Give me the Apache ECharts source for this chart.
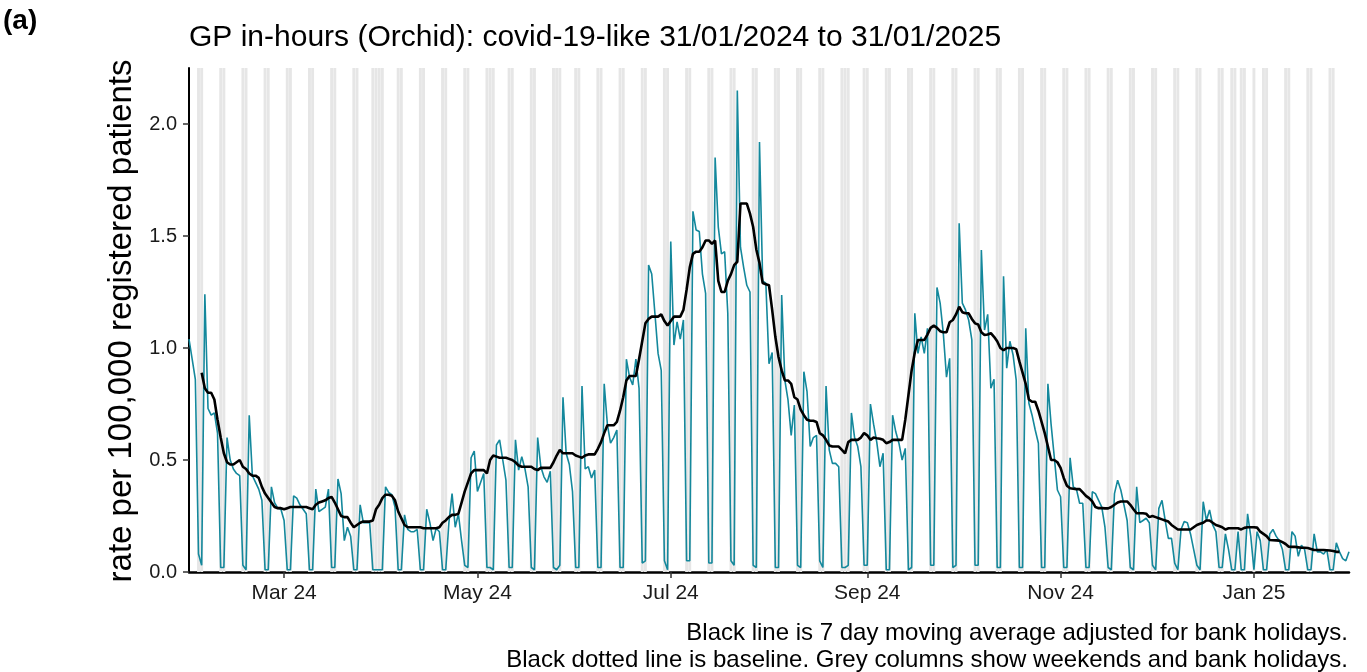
<!DOCTYPE html>
<html><head><meta charset="utf-8">
<script src="https://cdn.jsdelivr.net/npm/echarts@6/dist/echarts.min.js"></script>
<style>html,body{margin:0;padding:0;background:#fff}#c{width:1367px;height:672px}</style>
</head><body><div id="c"></div>
<script>
// ---- data ----
const startDate = [2024, 0, 31];           // 31/01/2024
const bankHolidays = ['2024-03-29','2024-04-01','2024-05-06','2024-05-27','2024-08-26','2024-12-25','2024-12-26','2025-01-01'];
const xTickDates = ['2024-03-01','2024-05-01','2024-07-01','2024-09-01','2024-11-01','2025-01-01'];
const xTickLabels = ['Mar 24','May 24','Jul 24','Sep 24','Nov 24','Jan 25'];
const yTicks = [0, 0.5, 1, 1.5, 2];
const yMax = 2.25;

// daily rate (teal), one value per day from 31/01/2024
const dailyRate = [
1.04,0.95,0.86,0.08,0.03,1.24,0.73,
0.70,0.71,0.62,0.02,0.02,0.60,0.50,
0.46,0.44,0.43,0.03,0.01,0.70,0.43,
0.40,0.37,0.32,0.01,0.01,0.38,0.31,
0.285,0.28,0.23,0.01,0.01,0.34,0.33,
0.30,0.28,0.26,0.01,0.01,0.37,0.27,
0.28,0.29,0.37,0.02,0.02,0.415,0.35,
0.14,0.20,0.16,0.01,0.01,0.30,0.22,
0.22,0.22,0.01,0.01,0.01,0.01,0.38,
0.355,0.345,0.29,0.01,0.01,0.255,0.19,
0.18,0.18,0.19,0.01,0.01,0.28,0.22,
0.14,0.195,0.18,0.01,0.01,0.22,0.35,
0.20,0.26,0.14,0.03,0.02,0.51,0.54,
0.36,0.40,0.44,0.02,0.02,0.01,0.567,
0.59,0.50,0.41,0.02,0.02,0.59,0.455,
0.515,0.46,0.38,0.02,0.01,0.60,0.47,
0.425,0.40,0.45,0.02,0.01,0.03,0.78,
0.53,0.48,0.36,0.02,0.02,0.83,0.46,
0.47,0.42,0.455,0.02,0.02,0.84,0.66,
0.575,0.60,0.634,0.02,0.02,0.95,0.87,
0.835,0.95,0.82,0.04,0.05,1.37,1.33,
1.155,0.976,0.90,0.05,0.01,1.475,1.013,
1.117,1.04,1.125,0.05,0.05,1.61,1.527,
1.52,1.33,1.244,0.04,0.04,1.85,1.54,
1.42,1.43,1.155,0.05,0.03,2.15,1.45,
1.36,1.28,1.25,0.03,0.02,1.92,1.30,
1.29,0.93,0.98,0.02,0.02,1.237,0.857,
0.768,0.61,0.745,0.03,0.02,0.894,0.805,
0.56,0.60,0.61,0.05,0.02,0.83,0.545,
0.485,0.485,0.47,0.02,0.02,0.03,0.71,
0.60,0.56,0.47,0.03,0.03,0.75,0.66,
0.58,0.47,0.53,0.01,0.01,0.70,0.626,
0.575,0.50,0.552,0.01,0.02,1.155,0.976,
1.05,0.976,1.088,0.03,0.03,1.27,1.20,
1.065,0.87,0.954,0.02,0.03,1.557,1.20,
1.17,1.125,1.036,0.03,0.03,1.437,1.08,
1.15,0.82,0.86,0.02,0.02,1.32,0.91,
1.03,0.97,0.857,0.02,0.02,1.088,0.753,
0.70,0.634,0.575,0.02,0.02,0.84,0.66,
0.515,0.366,0.336,0.02,0.02,0.51,0.38,
0.37,0.307,0.307,0.02,0.02,0.358,0.35,
0.32,0.29,0.20,0.02,0.01,0.35,0.41,
0.366,0.30,0.23,0.02,0.01,0.38,0.22,
0.23,0.24,0.22,0.03,0.01,0.284,0.32,
0.23,0.15,0.15,0.04,0.01,0.19,0.225,
0.22,0.17,0.10,0.03,0.01,0.314,0.23,
0.277,0.21,0.18,0.02,0.02,0.17,0.10,
0.01,0.01,0.18,0.01,0.01,0.26,0.16,
0.01,0.18,0.14,0.01,0.01,0.17,0.19,
0.16,0.14,0.10,0.01,0.01,0.18,0.16,
0.07,0.12,0.10,0.01,0.01,0.17,0.09,
0.09,0.08,0.10,0.01,0.01,0.13,0.09,
0.06,0.05,0.09
];

// 7 day moving average (black)
const movingAvg = [
null,null,null,null,0.89,0.82,0.80,
0.80,0.77,0.68,0.60,0.53,0.49,0.48,
0.48,0.49,0.50,0.47,0.46,0.44,0.43,
0.43,0.42,0.38,0.35,0.33,0.31,0.29,
0.285,0.285,0.28,0.285,0.29,0.29,0.29,
0.29,0.29,0.29,0.285,0.28,0.30,0.31,
0.315,0.32,0.33,0.335,0.31,0.28,0.25,
0.245,0.245,0.22,0.20,0.21,0.22,0.225,
0.225,0.225,0.23,0.28,0.30,0.33,0.345,
0.345,0.34,0.32,0.27,0.24,0.21,0.20,
0.20,0.20,0.20,0.20,0.195,0.195,0.195,
0.195,0.195,0.20,0.22,0.23,0.245,0.255,
0.255,0.26,0.31,0.36,0.40,0.44,0.455,
0.455,0.455,0.455,0.44,0.50,0.52,0.515,
0.51,0.51,0.51,0.505,0.50,0.49,0.475,
0.47,0.47,0.47,0.47,0.46,0.455,0.465,
0.465,0.465,0.465,0.49,0.52,0.545,0.53,
0.53,0.53,0.53,0.52,0.515,0.51,0.52,
0.525,0.525,0.525,0.55,0.58,0.62,0.655,
0.655,0.655,0.67,0.72,0.78,0.855,0.875,
0.875,0.875,0.95,1.03,1.11,1.13,1.14,
1.14,1.14,1.15,1.12,1.10,1.12,1.14,
1.14,1.14,1.17,1.26,1.36,1.42,1.43,
1.43,1.45,1.48,1.48,1.465,1.48,1.30,
1.25,1.25,1.30,1.33,1.37,1.385,1.645,
1.645,1.645,1.60,1.54,1.44,1.38,1.29,
1.285,1.28,1.17,1.05,0.96,0.90,0.855,
0.855,0.84,0.78,0.77,0.725,0.70,0.68,
0.675,0.675,0.67,0.62,0.61,0.59,0.565,
0.56,0.56,0.56,0.545,0.53,0.58,0.59,
0.59,0.59,0.60,0.62,0.61,0.59,0.60,
0.597,0.595,0.59,0.575,0.58,0.59,0.59,
0.59,0.59,0.68,0.79,0.90,0.98,1.036,
1.036,1.036,1.06,1.09,1.10,1.09,1.075,
1.07,1.07,1.115,1.125,1.15,1.184,1.16,
1.155,1.155,1.13,1.11,1.105,1.07,1.058,
1.06,1.066,1.05,1.03,1.00,0.99,1.00,
1.00,1.00,0.995,0.94,0.89,0.84,0.77,
0.76,0.76,0.72,0.67,0.62,0.56,0.50,
0.50,0.49,0.465,0.42,0.385,0.374,0.372,
0.37,0.37,0.355,0.34,0.33,0.315,0.29,
0.285,0.285,0.284,0.284,0.29,0.30,0.31,
0.315,0.315,0.315,0.30,0.28,0.262,0.262,
0.262,0.26,0.245,0.25,0.245,0.24,0.235,
0.23,0.225,0.21,0.20,0.19,0.19,0.19,
0.19,0.19,0.20,0.21,0.215,0.22,0.23,
0.23,0.22,0.21,0.205,0.20,0.19,0.195,
0.195,0.195,0.195,0.19,0.197,0.20,0.20,
0.20,0.198,0.18,0.17,0.16,0.143,0.142,
0.141,0.14,0.133,0.125,0.113,0.112,0.112,
0.11,0.108,0.108,0.107,0.103,0.098,0.098,
0.098,0.098,0.097,0.096,0.094,0.09,0.09,
null,null,null
];

// ---- build ----
function iso(d){ return d.toISOString().slice(0,10); }
const dates = dailyRate.map((_, i) => iso(new Date(Date.UTC(startDate[0], startDate[1], startDate[2] + i))));
const greyCols = dates.map(d => {
  const dow = new Date(d + 'T00:00:00Z').getUTCDay();
  return (dow === 0 || dow === 6 || bankHolidays.includes(d)) ? yMax : null;
});
const tickIdx = xTickDates.map(d => dates.indexOf(d));
const isTick = (idx) => tickIdx.includes(idx);

const FONT = '"Liberation Sans", Arial, Helvetica, sans-serif';
const chart = echarts.init(document.getElementById('c'), null, {renderer: 'canvas'});
chart.setOption({
  animation: false,
  backgroundColor: '#ffffff',
  grid: {left: 189, right: 18, top: 68, bottom: 100, containLabel: false},
  xAxis: {
    type: 'category', data: dates, boundaryGap: false,
    axisLine: {show: true, onZero: false, lineStyle: {color: '#000', width: 2.5}},
    axisTick: {show: true, interval: (i) => isTick(i), length: 6, lineStyle: {color: '#333', width: 1.5}},
    axisLabel: {interval: (i) => isTick(i), formatter: (v) => xTickLabels[xTickDates.indexOf(v)] || '',
      fontFamily: FONT, fontSize: 21, color: '#1a1a1a', margin: 11},
    splitLine: {show: false}
  },
  yAxis: {
    type: 'value', min: 0, max: yMax,
    axisLine: {show: true, lineStyle: {color: '#000', width: 2}},
    axisTick: {show: true, customValues: yTicks, length: 6, lineStyle: {color: '#333', width: 1.5}},
    axisLabel: {customValues: yTicks, formatter: (v) => Number(v).toFixed(1),
      fontFamily: FONT, fontSize: 20, color: '#1a1a1a', margin: 12},
    splitLine: {show: false}
  },
  series: [
    {type: 'bar', data: greyCols, barWidth: 2.9, itemStyle: {color: '#e6e6e6'}, silent: true, z: 1},
    {type: 'line', data: dailyRate, symbol: 'none', lineStyle: {color: '#14889c', width: 1.6}, silent: true, z: 2},
    {type: 'line', data: movingAvg, symbol: 'none', connectNulls: false, lineStyle: {color: '#000', width: 2.6}, silent: true, z: 3}
  ],
  graphic: [
    {type: 'text', x: 3, y: 21, style: {text: '(a)', fontFamily: FONT, fontWeight: 'bold', fontSize: 28, fill: '#000', align: 'left', verticalAlign: 'middle'}},
    {type: 'text', x: 189, y: 38, style: {text: 'GP in-hours (Orchid): covid-19-like 31/01/2024 to 31/01/2025', fontFamily: FONT, fontSize: 30, fill: '#000', align: 'left', verticalAlign: 'middle'}},
    {type: 'text', x: 122, y: 321, rotation: Math.PI / 2, style: {text: 'rate per 100,000 registered patients', fontFamily: FONT, fontSize: 33, fill: '#000', align: 'center', verticalAlign: 'middle'}},
    {type: 'text', x: 1348, y: 633, style: {text: 'Black line is 7 day moving average adjusted for bank holidays.', fontFamily: FONT, fontSize: 24, fill: '#000', align: 'right', verticalAlign: 'middle'}},
    {type: 'text', x: 1348, y: 660, style: {text: 'Black dotted line is baseline. Grey columns show weekends and bank holidays.', fontFamily: FONT, fontSize: 24, fill: '#000', align: 'right', verticalAlign: 'middle'}}
  ]
});
</script>
</body></html>
